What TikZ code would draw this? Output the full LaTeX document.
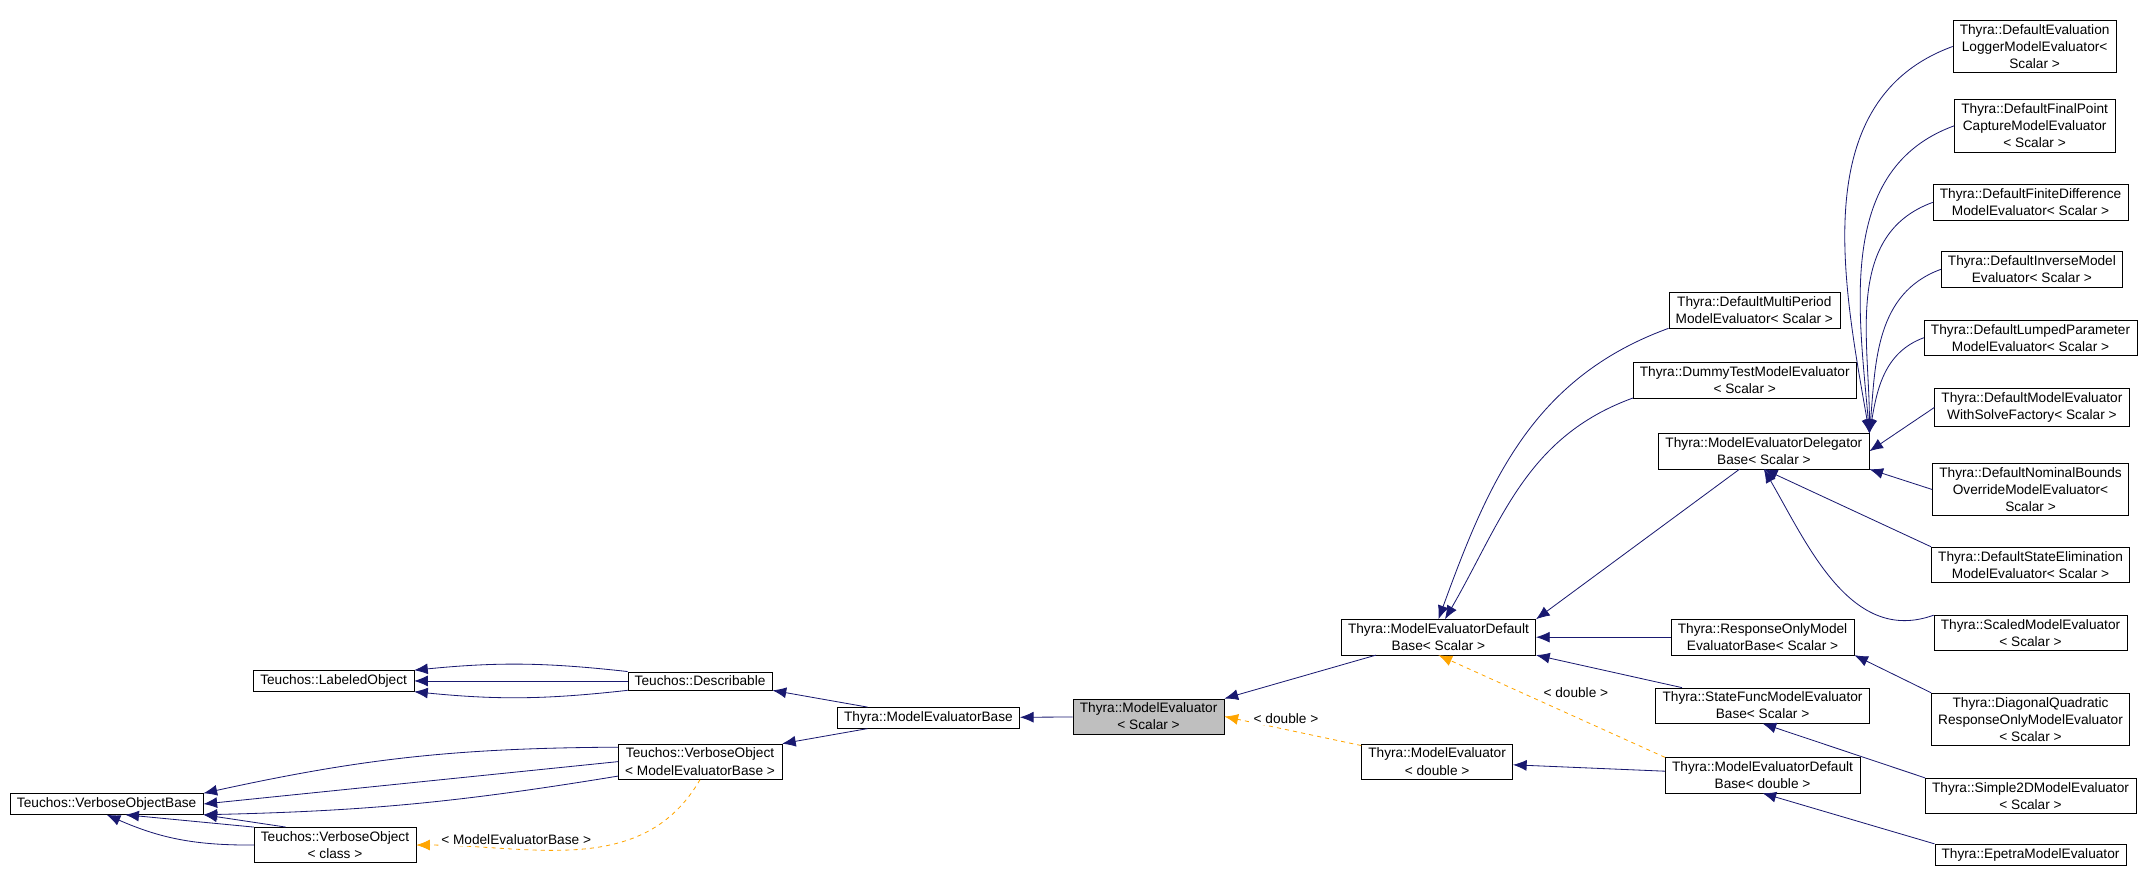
\documentclass[tikz,border=0pt]{standalone}
\usepackage{fontspec}
\setmainfont{Liberation Sans}
\usetikzlibrary{arrows.meta}
\definecolor{tmplcol}{HTML}{FFA500}
\definecolor{inhcol}{HTML}{191970}

\begin{document}
\begin{tikzpicture}[x=1pt, y=-1pt,
    % Stili per classi e ereditarieta
    cls/.style = {draw, thin, fill=white, align=center, inner xsep=5pt, inner ysep=3pt,
        font=\fontsize{10}{12.5}\selectfont},
    sel/.style = {cls, fill=black!25},
    inh/.style = {draw=inhcol, semithick,
        -{Latex[length=10pt,width=8pt]}},
    tmpl/.style = {draw=tmplcol, semithick, dashed,
        -{Latex[length=10pt,width=8pt]}},
    lbl/.style = {font=\fontsize{10}{12}\selectfont, fill=white, inner sep=1pt}
]
\useasboundingbox (0,0) rectangle (1568,642);

% 1. Classi a sinistra
\node[cls] (labeled) at (244,498) {Teuchos::LabeledObject};
\node[cls] (describ) at (512,498) {Teuchos::Describable};
\node[cls] (vobase) at (78,588) {Teuchos::VerboseObjectBase};
\node[cls] (vomeb) at (512,557) {Teuchos::VerboseObject\\< ModelEvaluatorBase >};
\node[cls] (voclass) at (245,618) {Teuchos::VerboseObject\\< class >};
\node[cls] (meb) at (679,525) {Thyra::ModelEvaluatorBase};
\node[sel] (mescalar) at (840,524) {Thyra::ModelEvaluator\\< Scalar >};

% 2. Classi centrali
\node[cls] (medscalar) at (1052,466) {Thyra::ModelEvaluatorDefault\\Base< Scalar >};
\node[cls] (medouble) at (1051,557) {Thyra::ModelEvaluator\\< double >};
\node[cls] (respbase) at (1289,466) {Thyra::ResponseOnlyModel\\EvaluatorBase< Scalar >};
\node[cls] (statebase) at (1289,516) {Thyra::StateFuncModelEvaluator\\Base< Scalar >};
\node[cls] (meddouble) at (1289,567) {Thyra::ModelEvaluatorDefault\\Base< double >};
\node[cls] (multiper) at (1283,227) {Thyra::DefaultMultiPeriod\\ModelEvaluator< Scalar >};
\node[cls] (dummy) at (1276,278) {Thyra::DummyTestModelEvaluator\\< Scalar >};
\node[cls] (delegbase) at (1290,330) {Thyra::ModelEvaluatorDelegator\\Base< Scalar >};

% 3. Colonna a destra
\node[cls] (logger) at (1488,34) {Thyra::DefaultEvaluation\\LoggerModelEvaluator<\\Scalar >};
\node[cls] (finalpt) at (1488,92) {Thyra::DefaultFinalPoint\\CaptureModelEvaluator\\< Scalar >};
\node[cls] (findiff) at (1485,148) {Thyra::DefaultFiniteDifference\\ModelEvaluator< Scalar >};
\node[cls] (inverse) at (1486,197) {Thyra::DefaultInverseModel\\Evaluator< Scalar >};
\node[cls] (lumped) at (1485,247) {Thyra::DefaultLumpedParameter\\ModelEvaluator< Scalar >};
\node[cls] (withsolve) at (1486,298) {Thyra::DefaultModelEvaluator\\WithSolveFactory< Scalar >};
\node[cls] (nominal) at (1485,358) {Thyra::DefaultNominalBounds\\OverrideModelEvaluator<\\Scalar >};
\node[cls] (stateelim) at (1485,413) {Thyra::DefaultStateElimination\\ModelEvaluator< Scalar >};
\node[cls] (scaled) at (1485,463) {Thyra::ScaledModelEvaluator\\< Scalar >};
\node[cls] (diagquad) at (1485,526) {Thyra::DiagonalQuadratic\\ResponseOnlyModelEvaluator\\< Scalar >};
\node[cls] (simple2d) at (1485,582) {Thyra::Simple2DModelEvaluator\\< Scalar >};
\node[cls] (epetra) at (1485,625) {Thyra::EpetraModelEvaluator};

% 4. Ereditarieta a sinistra
\draw[inh] (describ.north west) to[bend right=6] (labeled.north east);
\draw[inh] (describ) -- (labeled);
\draw[inh] (describ.south west) to[bend left=6] (labeled.south east);
\draw[inh] (vomeb.170) to[bend right=6] (vobase.north east);
\draw[inh] (vomeb.west) -- (vobase.east);
\draw[inh] (vomeb.190) to[bend left=4] (vobase.south east);
\draw[inh] (voclass.north west) -- (vobase.330);
\draw[inh] (voclass.160) -- (vobase.south east);
\draw[inh] (voclass.west) to[bend left=12] (vobase.south);
\draw[inh] (meb) -- (describ.south east);
\draw[inh] (meb) -- (vomeb.north east);
\draw[inh] (mescalar) -- (meb);

% 5. Ereditarieta centrale
\draw[inh] (medscalar) -- (mescalar.north east);
\draw[inh] (meddouble) -- (medouble);
\draw[inh] (respbase) -- (medscalar);
\draw[inh] (statebase) -- (medscalar.south east);
\draw[inh] (multiper.south west) to[out=200, in=70] (medscalar.north);
\draw[inh] (dummy.south west) to[out=200, in=60] (medscalar.70);
\draw[inh] (delegbase) -- (medscalar.north east);

% 6. Istanziazioni dei template
\draw[tmpl] (medouble) -- node[lbl, pos=0.55, above=3pt] {< double >} (mescalar.east);
\draw[tmpl] (meddouble.north west) -- node[lbl, pos=0.55, above right=1pt] {< double >} (medscalar.south);
\draw[tmpl] (vomeb.south) to[out=240, in=0] node[lbl, pos=0.45, above left=1pt] {< ModelEvaluatorBase >} (voclass.east);

% 7. Ereditarieta a destra
\foreach \c/\a in {logger/100, finalpt/95, findiff/90, inverse/85, lumped/80}
    \draw[inh] (\c.west) to[out=200, in=\a] (delegbase.north east);
\draw[inh] (withsolve.west) -- (delegbase.east);
\draw[inh] (nominal.west) -- (delegbase.south east);
\draw[inh] (stateelim.north west) -- (delegbase.south);
\draw[inh] (scaled.north west) to[out=200, in=-60] (delegbase.south);
\draw[inh] (diagquad.north west) -- (respbase.south east);
\draw[inh] (simple2d.north west) -- (statebase.south);
\draw[inh] (epetra.north west) -- (meddouble.south);

\end{tikzpicture}
\end{document}
